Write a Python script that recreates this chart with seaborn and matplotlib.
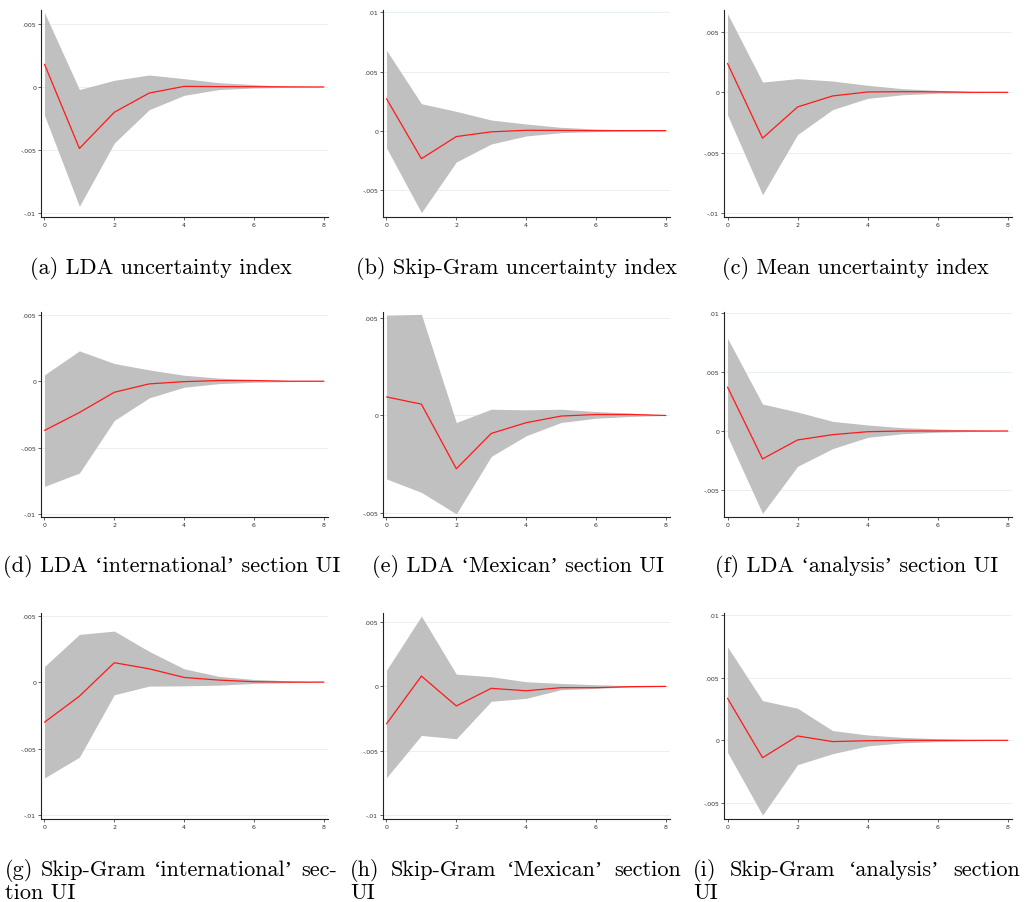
import numpy as np
import pandas as pd
import seaborn as sns
import matplotlib
matplotlib.use("Agg")
import matplotlib.pyplot as plt
from matplotlib.ticker import FuncFormatter, FixedLocator

# ---------------- data ----------------
steps = [0, 1, 2, 3, 4, 5, 6, 7, 8]

irf_a = [0.0018, -0.00487, -0.0020, -0.00048, 0.00005, 0.00003, 0.00002, 0.00001, 0.0]
hi_a = [0.0059, -0.0002, 0.00053, 0.00095, 0.00066, 0.00034, 0.00019, 0.00005, 0.0]
lo_a = [-0.00225, -0.00945, -0.00444, -0.0018, -0.00066, -0.0002, -0.00008, -0.00003, 0.0]

irf_b = [0.0027, -0.00237, -0.0005, -0.0001, 0.00003, 0.00002, 0.0, 0.0, 0.0]
hi_b = [0.0068, 0.00228, 0.00163, 0.0009, 0.00056, 0.00028, 0.00014, 0.00006, 0.0]
lo_b = [-0.00146, -0.00693, -0.00265, -0.00113, -0.00045, -0.00017, -0.00008, -0.00003, 0.0]

irf_c = [0.00239, -0.00379, -0.00121, -0.0003, 0.00003, 0.00005, 0.00004, 0.0, 0.0]
hi_c = [0.0065, 0.00085, 0.00113, 0.00093, 0.00058, 0.0003, 0.00016, 0.00005, 0.0]
lo_c = [-0.00187, -0.00846, -0.00349, -0.00143, -0.0005, -0.0002, -0.00008, -0.00003, 0.0]

irf_d = [-0.0037, -0.00235, -0.00083, -0.0002, -0.00003, 0.00005, 0.00005, 0.0, 0.0]
hi_d = [0.00048, 0.00228, 0.00133, 0.00085, 0.00045, 0.00023, 0.00013, 0.00005, 0.0]
lo_d = [-0.0079, -0.0069, -0.00295, -0.00125, -0.00045, -0.00018, -0.00008, -0.00003, 0.0]

irf_e = [0.00095, 0.00058, -0.00273, -0.00092, -0.00037, -0.00003, 0.00005, 0.00005, 0.0]
hi_e = [0.00514, 0.00518, -0.00036, 0.00032, 0.00029, 0.00032, 0.0002, 0.00012, 0.0]
lo_e = [-0.00325, -0.00394, -0.00504, -0.0021, -0.00104, -0.00036, -0.00014, -0.00005, 0.0]

irf_f = [0.00373, -0.00237, -0.00076, -0.00031, -0.00006, 0.0, 0.0, 0.0, 0.0]
hi_f = [0.00788, 0.00229, 0.00161, 0.00082, 0.00051, 0.00028, 0.00017, 0.00008, 0.0]
lo_f = [-0.00045, -0.007, -0.003, -0.0015, -0.00054, -0.00023, -0.00011, -0.00004, 0.0]

irf_g = [-0.00302, -0.00106, 0.00146, 0.001, 0.00035, 0.00015, 0.00003, 0.0, 0.0]
hi_g = [0.00118, 0.00359, 0.00384, 0.00231, 0.001, 0.00043, 0.0002, 0.0001, 0.0]
lo_g = [-0.00721, -0.00565, -0.00095, -0.0003, -0.00028, -0.00023, -0.0001, -0.00004, 0.0]

irf_h = [-0.00291, 0.0008, -0.00152, -0.00015, -0.00034, -0.0001, -0.0001, -0.00002, 0.0]
hi_h = [0.00126, 0.00546, 0.00095, 0.00075, 0.00036, 0.00023, 0.00013, 0.00005, 0.0]
lo_h = [-0.00709, -0.00381, -0.00407, -0.00116, -0.00093, -0.00026, -0.00015, -0.00005, 0.0]

irf_i = [0.00337, -0.00139, 0.00035, -0.0001, -0.00003, 0.0, 0.0, 0.0, 0.0]
hi_i = [0.00749, 0.00318, 0.00257, 0.00078, 0.00043, 0.00024, 0.00013, 0.00005, 0.0]
lo_i = [-0.00096, -0.00599, -0.00195, -0.00107, -0.00045, -0.0002, -0.0001, -0.00004, 0.0]

y_ticks = [-0.01, -0.005, 0.0, 0.005, 0.01]
x_ticks = [0, 2, 4, 6, 8]

captions = [
    "(a) LDA uncertainty index",
    "(b) Skip-Gram uncertainty index",
    "(c) Mean uncertainty index",
    "(d) LDA \u2018international\u2019 section UI",
    "(e) LDA \u2018Mexican\u2019 section UI",
    "(f) LDA \u2018analysis\u2019 section UI",
    "(g) Skip-Gram \u2018international\u2019 sec-\ntion UI",
    "(h) Skip-Gram \u2018Mexican\u2019 section\nUI",
    "(i) Skip-Gram \u2018analysis\u2019 section\nUI",
]

panels = [
    (irf_a, lo_a, hi_a), (irf_b, lo_b, hi_b), (irf_c, lo_c, hi_c),
    (irf_d, lo_d, hi_d), (irf_e, lo_e, hi_e), (irf_f, lo_f, hi_f),
    (irf_g, lo_g, hi_g), (irf_h, lo_h, hi_h), (irf_i, lo_i, hi_i),
]

# ---------------- layout ----------------
W, H = 1025, 903
sns.set_theme(style="white")
fig = plt.figure(figsize=(W / 100, H / 100), dpi=100)
fig.patch.set_facecolor("white")

col_l = [41, 383, 724]
col_r = [328, 670, 1012]
row_t = [11, 313, 614]
row_b = [218, 518, 820]
ylims = [
    (-0.0103, 0.0061), (-0.0073, 0.0102), (-0.0103, 0.0068),
    (-0.0102, 0.0052), (-0.0052, 0.0053), (-0.0073, 0.0101),
    (-0.0103, 0.0052), (-0.0103, 0.0057), (-0.0063, 0.0102),
]


def fmt(v, pos=None):
    if abs(v) < 1e-12:
        return "0"
    s = "%g" % v
    return s.replace("0.", ".")


for k, (irf, lo, hi) in enumerate(panels):
    r, c = divmod(k, 3)
    ax = fig.add_axes([col_l[c] / W, 1 - row_b[r] / H,
                       (col_r[c] - col_l[c]) / W, (row_b[r] - row_t[r]) / H])
    df = pd.DataFrame({"step": steps, "irf": irf, "lo": lo, "hi": hi})
    ax.fill_between(df["step"], df["lo"], df["hi"], color="#c0c0c0",
                    linewidth=0, zorder=2)
    sns.lineplot(data=df, x="step", y="irf", color="#ff1a1a", linewidth=0.9,
                 ax=ax, zorder=3)
    ylo, yhi = ylims[k]
    ax.set_ylim(ylo, yhi)
    ax.set_xlim(-0.1, 8.12)
    ticks = [t for t in y_ticks if ylo <= t <= yhi]
    ax.yaxis.set_major_locator(FixedLocator(ticks))
    ax.yaxis.set_major_formatter(FuncFormatter(fmt))
    ax.xaxis.set_major_locator(FixedLocator(x_ticks))
    for t in ticks:
        ax.axhline(t, color="#eaf0f0", linewidth=0.7, zorder=1)
    ax.set_xlabel("")
    ax.set_ylabel("")
    for s in ["top", "right"]:
        ax.spines[s].set_visible(False)
    for s in ["left", "bottom"]:
        ax.spines[s].set_color("#222222")
        ax.spines[s].set_linewidth(0.8)
    ax.tick_params(axis="both", which="major", direction="out", length=2,
                   width=0.5, color="#222222", labelsize=4.5,
                   labelcolor="#333333", pad=1.5, left=True, bottom=True)
    ax.set_facecolor("white")

# ---------------- captions ----------------
cap_font = dict(family=["cmr10", "Liberation Serif", "DejaVu Serif"],
                fontsize=16, color="black")
renderer = fig.canvas.get_renderer()

centers_row = [[161, 516, 855], [172, 518, 857]]
base_row = [274, 572]
for k in range(6):
    r, c = divmod(k, 3)
    fig.text(centers_row[r][c] / W, 1 - base_row[r] / H, captions[k],
             ha="center", va="baseline", **cap_font)

row3_left = [5, 350, 693]
row3_right = [337, 681, 1020]
line1_base = 876
line2_base = 899
for c in range(3):
    line1, line2 = captions[6 + c].split("\n")
    words = line1.split(" ")
    texts = [fig.text(0, 1 - line1_base / H, w, ha="left", va="baseline",
                      **cap_font) for w in words]
    widths = [t.get_window_extent(renderer).width for t in texts]
    gap = (row3_right[c] - row3_left[c] - sum(widths)) / (len(words) - 1)
    x = row3_left[c]
    for t, w in zip(texts, widths):
        t.set_x(x / W)
        x += w + gap
    fig.text(row3_left[c] / W, 1 - line2_base / H, line2, ha="left",
             va="baseline", **cap_font)

fig.savefig("out.png", dpi=100, facecolor="white")
